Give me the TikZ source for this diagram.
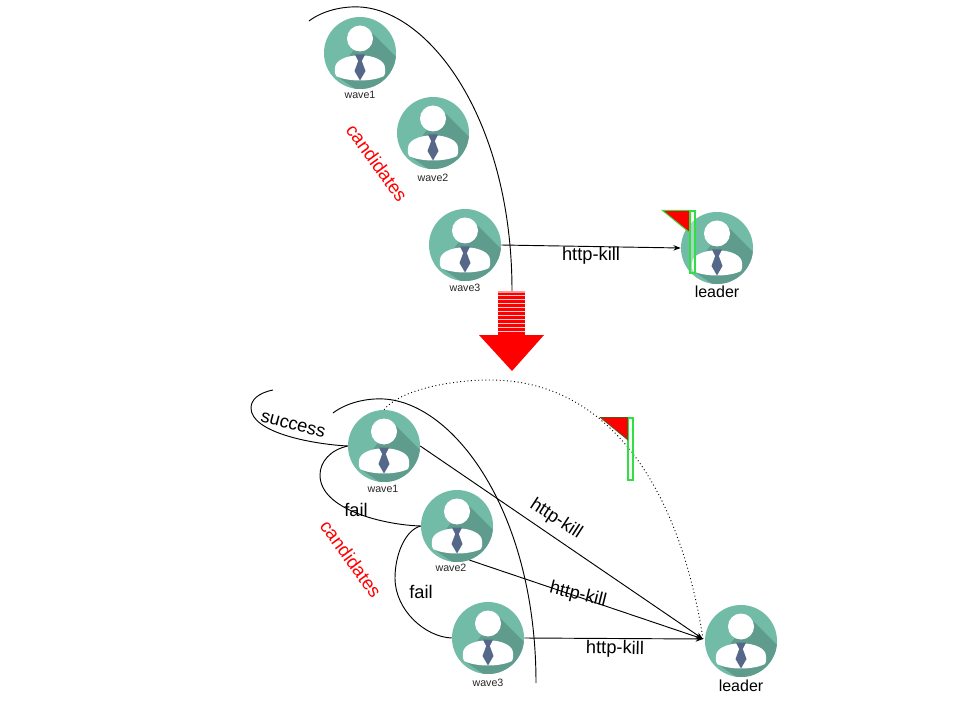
\documentclass[tikz,border=0pt]{standalone}
\usepackage{fontspec}
\setmainfont{Liberation Sans}
\usetikzlibrary{arrows.meta}
\definecolor{teal1}{HTML}{72BBA6}
\definecolor{teal2}{HTML}{5F9C8D}
\definecolor{tiec}{HTML}{56688A}
\definecolor{flaggreen}{HTML}{33DD44}
\tikzset{
  x=0.75pt,y=-0.75pt,
  person/.style={circle,inner sep=0pt,minimum size=54pt,fill=teal1,
    path picture={
      \begin{scope}[shift={(path picture bounding box.center)}]
        \fill[teal2] (9,-23) -- (60,28) -- (30,60) -- (-25,22) -- cycle;
        \fill[white] (0,-14.5) circle (13);
        \fill[white] (-25,15) .. controls (-25,7) and (-13,3) .. (-4,2.5) -- (4,2.5)
           .. controls (13,3) and (25,7) .. (25,15)
           .. controls (25.5,19) and (25,22) .. (24,23)
           .. controls (12,29) and (-12,29) .. (-24,23)
           .. controls (-25,22) and (-25.5,19) .. (-25,15) -- cycle;
        \fill[tiec] (-5,1.5) -- (5,1.5) -- (1.8,8) -- (5.5,18) -- (0,27.5) -- (-5.5,18) -- (-1.8,8) -- cycle;
      \end{scope}
    }},
  small/.style={font=\fontsize{8}{10}\selectfont,text=black!85,inner sep=0pt},
  lab/.style={font=\fontsize{12}{14}\selectfont,inner sep=0pt},
  big/.style={font=\fontsize{13.7}{16}\selectfont,inner sep=0pt},
  cand/.style={font=\fontsize{14}{16}\selectfont,text=red,inner sep=0pt},
  conn/.style={draw=black,line width=0.7pt},
  arr/.style={conn,-{Stealth[length=5.5pt,width=4pt]}},
  pole/.style={draw=flaggreen,fill=flaggreen!10,fill opacity=0.4,line width=0.8pt},
  pennant/.style={fill=red,line width=0.7pt},
}
\begin{document}
\begin{tikzpicture}
\useasboundingbox (0,0) rectangle (960,720);
% free curve ends
\coordinate (ca) at (309,21); \coordinate (cb) at (512,291);
\coordinate (da) at (333,413); \coordinate (db) at (536,683);
\coordinate (hub) at (703,639);
\coordinate (sa) at (273,390);
% upper candidate curve
\draw[conn] (ca) .. controls (322,11) and (342,6) .. (360,7) .. controls (430,11) and (512,120) .. (cb);
% people
\node[person] (w1) at (360,53) {};
\node[person] (w2) at (433,133) {};
\node[person] (w3) at (465,245) {};
\node[person] (l1) at (717,248) {};
\node[small] (t1) at (360,95) {wave1};
\node[small] (t2) at (433,178) {wave2};
\node[small] (t3) at (465,288) {wave3};
\node[lab] (t4) at (717,292) {leader};
\node[cand,rotate=-54] (c1) at (377,163) {candidates};
\draw[arr] (w3.east) -- (l1.west);
\node[big] (k1) at (591,256) {http-kill};
% upper flag
\node[pole,minimum width=3.75pt,minimum height=46.5pt,inner sep=0pt] (p1) at (692.5,242) {};
\path[pennant,draw=flaggreen] (p1.north west) -- ++(-27,0) -- ++(27,22) -- cycle;
% big arrow
\fill[red] (498,291) rectangle (525,335);
\fill[white,opacity=0.6] (498,291) rectangle (525,293);
\foreach \yy/\hh in {295/1.2,299/1.2,303/1.1,307/1,311/0.9,315/0.8,319/0.7,323/0.6,327/0.5,331/0.4}
  \fill[white,opacity=0.8] (498,\yy) rectangle (525,\yy+\hh);
\fill[red] (479,335) -- (544,335) -- (512,371) -- cycle;
% lower curves
\draw[conn] (da) .. controls (346,403) and (366,398) .. (384,399) .. controls (454,403) and (536,512) .. (db);
\node[person] (w4) at (384,446) {};
\node[person] (w5) at (457,526) {};
\node[person] (w6) at (488,638) {};
\node[person] (l2) at (741,641) {};
\node[small] (t5) at (383,489) {wave1};
\node[small] (t6) at (451,568) {wave2};
\node[small] (t7) at (488,683) {wave3};
\node[lab] (t8) at (741,686) {leader};
\node[cand,rotate=-54] (c2) at (351,559) {candidates};
\draw[conn] (sa) .. controls (258,393) and (251,400) .. (251,408) .. controls (251,432) and (310,444) .. (w4.west);
\draw[conn] (w4.west) .. controls (330,450) and (320,462) .. (320,475) .. controls (320,510) and (385,525) .. (w5.west);
\draw[conn] (w5.west) .. controls (405,530) and (395,555) .. (395,578) .. controls (395,610) and (425,637) .. (w6.west);
\draw[arr] (w4.east) -- (hub);
\draw[arr] (w5.-70) -- (hub);
\draw[arr] (w6.east) -- (hub);
\draw[conn,dotted] (w4.north) .. controls (400,390) and (450,380) .. (490,380) .. controls (610,380) and (680,490) .. (hub);
\node[big,rotate=-15] (s1) at (293,425) {success};
\node[big] (f1) at (356,510) {fail};
\node[big] (f2) at (421,592) {fail};
\node[big,rotate=-33] (k2) at (556,519) {http-kill};
\node[big,rotate=-14] (k3) at (578,595) {http-kill};
\node[big,rotate=-1] (k4) at (615,649) {http-kill};
% lower flag
\node[pole,minimum width=3.75pt,minimum height=46.5pt,inner sep=0pt] (p2) at (630.5,449) {};
\path[pennant,draw=flaggreen!50!red!70!black] (p2.north west) -- ++(-27,0) -- ++(27,22) -- cycle;
\end{tikzpicture}
\end{document}
